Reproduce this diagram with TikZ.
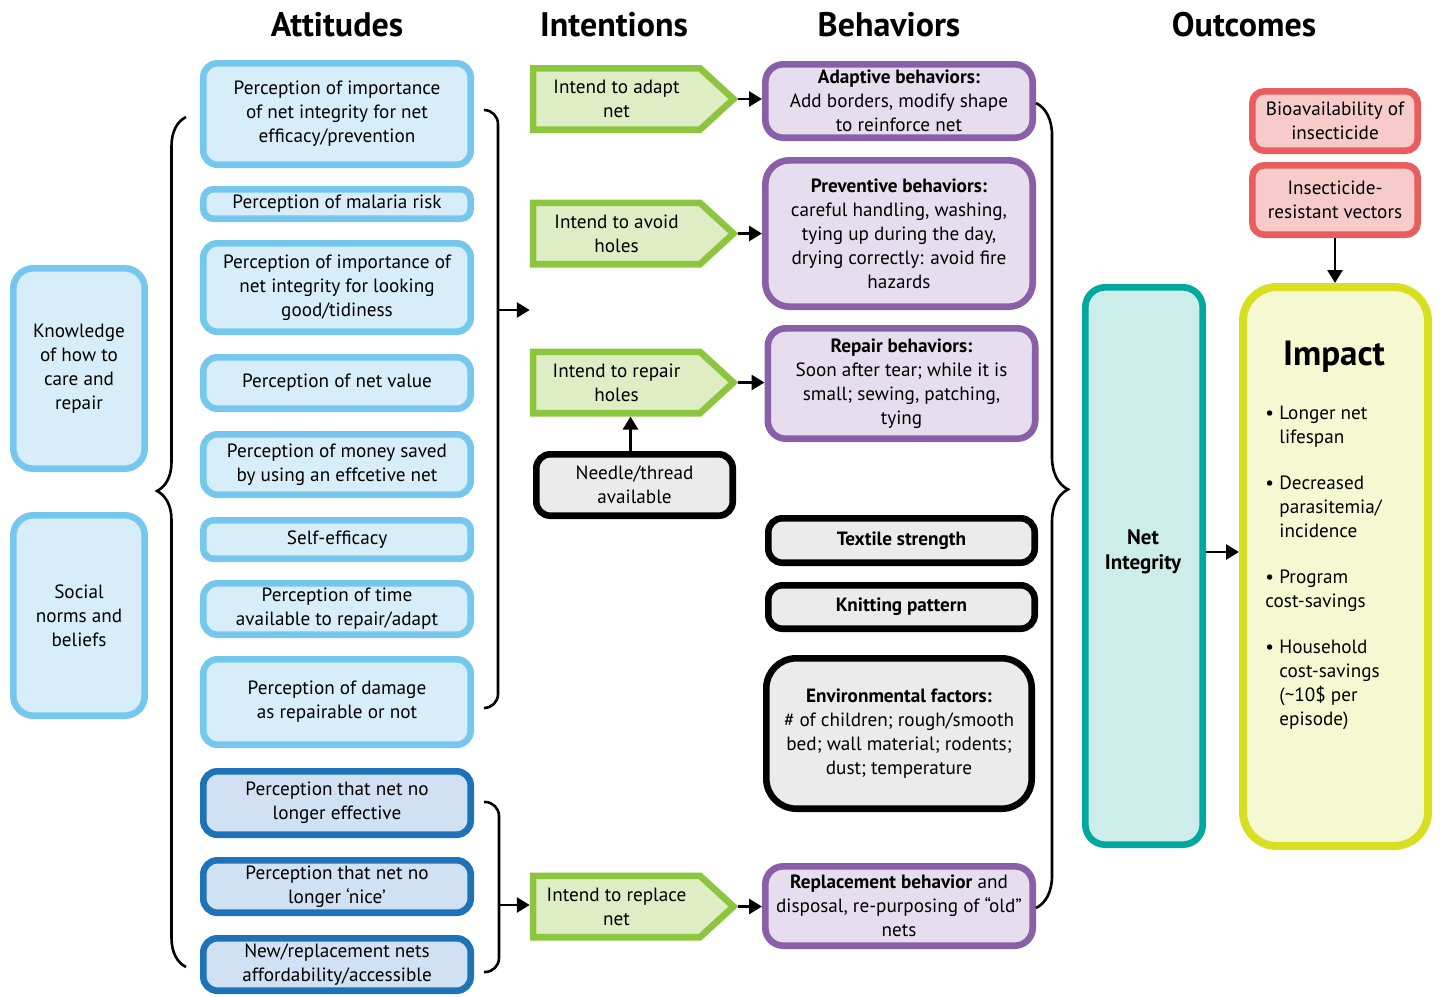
\documentclass[tikz,border=0pt]{standalone}
\usepackage{fontspec}
\setmainfont{PT Sans}
\usetikzlibrary{arrows.meta,shapes.symbols,decorations.pathreplacing}
\definecolor{attline}{HTML}{75C7EE}
\definecolor{attfill}{HTML}{D7EEFA}
\definecolor{replline}{HTML}{1D72B8}
\definecolor{replfill}{HTML}{CFE1F2}
\definecolor{intline}{HTML}{8CC63F}
\definecolor{intfill}{HTML}{DFEDC5}
\definecolor{behline}{HTML}{8960A8}
\definecolor{behfill}{HTML}{E6DEEE}
\definecolor{factfill}{HTML}{EBEBEB}
\definecolor{riskline}{HTML}{E85D5E}
\definecolor{riskfill}{HTML}{F8CBCB}
\definecolor{niline}{HTML}{00A89D}
\definecolor{nifill}{HTML}{CDEDEA}
\definecolor{impline}{HTML}{D8DF21}
\definecolor{impfill}{HTML}{F6F8D1}
\newcommand{\impbul}{\makebox[7pt][l]{\textbullet}}
\newcommand{\impind}{\hspace*{7pt}}
\begin{document}
\begin{tikzpicture}[x=0.5pt,y=-0.5pt,
  every node/.style={font=\fontsize{9.6}{12}\selectfont},
  box/.style={rounded corners=7pt,line width=3.3pt,align=center,inner sep=1pt},
  attbox/.style={box,draw=attline,fill=attfill,minimum width=133.7pt},
  normbox/.style={box,draw=attline,fill=attfill,rounded corners=10pt,minimum width=65.7pt,minimum height=100.2pt},
  replbox/.style={box,draw=replline,fill=replfill,minimum width=133.7pt},
  intend/.style={signal,signal to=east,signal pointer angle=85,draw=intline,fill=intfill,line width=3.3pt,align=center,inner sep=1pt,minimum width=100.2pt,minimum height=30.7pt},
  behbox/.style={box,draw=behline,fill=behfill,rounded corners=9pt,minimum width=133.7pt},
  factbox/.style={box,draw=black,fill=factfill,minimum width=133.2pt},
  riskbox/.style={box,draw=riskline,fill=riskfill,rounded corners=6pt,minimum width=82.7pt},
  head/.style={font=\fontsize{17}{20}\selectfont\bfseries},
  arr/.style={line width=1.4pt,-{Triangle[length=6.5pt,width=7.5pt]}},
  bracket/.style={line width=1.3pt,rounded corners=7pt},
  brace/.style={line width=1.3pt,decorate}]
\useasboundingbox (0,0) rectangle (1440,996);

\node[head] (hatt) at (337,25) {Attitudes};
\node[head] (hint) at (614,25) {Intentions};
\node[head] (hbeh) at (889,25) {Behaviors};
\node[head] (hout) at (1244,25) {Outcomes};

\node[normbox] (know) at (79,368.5) {Knowledge\\of how to\\care and\\repair};
\node[normbox] (social) at (79,615.5) {Social\\norms and\\beliefs};

\node[attbox,minimum height=50.7pt] (pimpeff) at (337,114) {Perception of importance\\of net integrity for net\\efficacy/prevention};
\node[attbox,minimum height=14.7pt,rounded corners=5pt] (pmal) at (337,204) {Perception of malaria risk};
\node[attbox,minimum height=44.2pt] (pimptid) at (337,287.5) {Perception of importance of\\net integrity for looking\\good/tidiness};
\node[attbox,minimum height=25.7pt] (pval) at (337,383) {Perception of net value};
\node[attbox,minimum height=30.2pt] (pmoney) at (337,464.5) {Perception of money saved\\by using an effcetive net};
\node[attbox,minimum height=19.2pt,rounded corners=5pt] (pself) at (337,539.5) {Self-efficacy};
\node[attbox,minimum height=25.7pt] (ptime) at (337,609) {Perception of time\\available to repair/adapt};
\node[attbox,minimum height=42.7pt] (pdamage) at (337,702) {Perception of damage\\as repairable or not};
\node[replbox,minimum height=31.7pt] (pnoeff) at (337,803) {Perception that net no\\longer effective};
\node[replbox,minimum height=26.2pt] (pnonice) at (337,886.5) {Perception that net no\\longer ‘nice’};
\node[replbox,minimum height=26.2pt] (pafford) at (337,964.5) {New/replacement nets\\affordability/accessible};

\draw[brace,decoration={brace,amplitude=14.5pt,aspect=0.56}] (186,967) -- (186,117);

\node[intend] (intadapt) at (616.5,99) {Intend to adapt\\net};
\node[intend] (intavoid) at (616.5,233.5) {Intend to avoid\\holes};
\node[intend] (intrep) at (616.5,382.5) {Intend to repair\\holes};
\node[intend] (intrepl) at (616.5,906.5) {Intend to replace\\net};
\node[factbox,minimum width=98.2pt,minimum height=30.7pt] (needle) at (634.5,485) {Needle/thread\\available};

\draw[bracket] (484,110) -| (498,409) |- (484,708);
\coordinate (brA) at (498,310);
\draw[arr] (brA) -- (brA -| intrep.west);
\draw[bracket] (484,802) -| (499,887) |- (484,972);
\coordinate (brB) at (499,905);
\draw[arr] (brB) -- (brB -| intrepl.west);

\node[behbox,minimum height=36.7pt] (adaptb) at (899,101) {\textbf{Adaptive behaviors:}\\Add borders, modify shape\\to reinforce net};
\node[behbox,minimum height=73.2pt,rounded corners=12pt] (prevb) at (899,233.5) {\textbf{Preventive behaviors:}\\careful handling, washing,\\tying up during the day,\\drying correctly: avoid fire\\hazards};
\node[behbox,minimum height=55.2pt] (repb) at (901.5,383.5) {\textbf{Repair behaviors:}\\Soon after tear; while it is\\small; sewing, patching,\\tying};
\node[factbox,minimum height=22.2pt] (textile) at (901.5,540.5) {\textbf{Textile strength}};
\node[factbox,minimum height=21.7pt] (knit) at (901.5,607) {\textbf{Knitting pattern}};
\node[factbox,minimum height=75.2pt,minimum width=132.7pt,rounded corners=15pt] (envf) at (899,733.5) {\textbf{Environmental factors:}\\\# of children; rough/smooth\\bed; wall material; rodents;\\dust; temperature};
\node[behbox,minimum height=39.7pt] (replb) at (899,906) {\textbf{Replacement behavior} and\\disposal, re-purposing of “old”\\nets};

\draw[arr] (intadapt.east) -- (intadapt.east -| adaptb.west);
\draw[arr] (intavoid.east) -- (intavoid.east -| prevb.west);
\draw[arr] (intrep.east) -- (intrep.east -| repb.west);
\draw[arr] (intrepl.east) -- (intrepl.east -| replb.west);
\draw[arr] ([xshift=-2pt]needle.north) -- ([xshift=-2pt]needle.north |- intrep.south);

\draw[brace,decoration={brace,amplitude=16pt,aspect=0.48}] (1036,103) -- (1036,908);

\node[box,draw=niline,fill=nifill,rounded corners=10pt,minimum width=58.7pt,minimum height=278.7pt] (ni) at (1144,566) {};
\node[font=\fontsize{10.5}{12.5}\selectfont\bfseries,align=center] (nitext) at (1143,552) {Net\\Integrity};

\node[box,draw=impline,fill=impfill,line width=4pt,rounded corners=17pt,minimum width=92.5pt,minimum height=279.5pt] (impact) at (1335.5,566.5) {};
\node[font=\fontsize{17.5}{20}\selectfont\bfseries] (imptitle) at (1334,357) {Impact};
\node[align=left,anchor=north west,inner sep=1pt] (implist) at (1263,404) {\impbul Longer net\\\impind lifespan\\[11pt]\impbul Decreased\\\impind parasitemia/\\\impind incidence\\[11pt]\impbul Program\\cost-savings\\[11pt]\impbul Household\\\impind cost-savings\\\impind (\textasciitilde10\$ per\\\impind episode)};

\node[riskbox,minimum height=29.7pt] (bioav) at (1335,121) {Bioavailability of\\insecticide};
\node[riskbox,minimum height=34.7pt] (resist) at (1335,200) {Insecticide-\\resistant vectors};

\draw[arr] (ni.east |- nitext) -- (impact.west |- nitext);
\draw[arr] (resist.south) -- (resist.south |- impact.north);
\end{tikzpicture}
\end{document}
